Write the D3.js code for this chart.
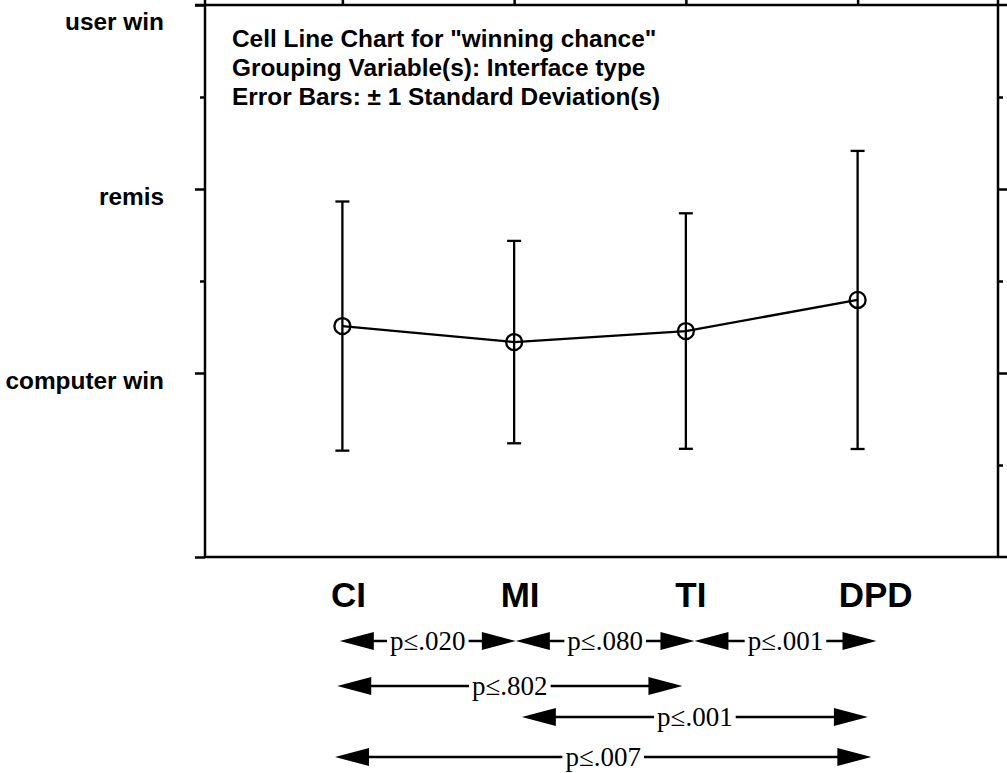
<!DOCTYPE html>
<html>
<head>
<meta charset="utf-8">
<script src="https://cdn.jsdelivr.net/npm/d3@7"></script>
<style>
  body { margin: 0; background: #fff; }
  svg { display: block; }
</style>
</head>
<body>
<script>
// cell means and standard deviations
const categories = ["CI", "MI", "TI", "DPD"];
const means = [1.255, 1.168, 1.228, 1.397];
const sds = [0.677, 0.550, 0.640, 0.810];

// y axis: 1 = computer win, 2 = remis, 3 = user win
const yTickValues = [1, 2, 3];
const yTickLabels = ["computer win", "remis", "user win"];
const leftMinorTicks = [1.5, 2.5];
const rightMinorTicks = [0.5, 1.5, 2.5];

const titleLines = [
  "Cell Line Chart for \"winning chance\"",
  "Grouping Variable(s): Interface type",
  "Error Bars: \u00b1 1 Standard Deviation(s)"
];

// pairwise comparison arrows, ends given in category units (0 = CI ... 3 = DPD)
const pLabels = ["p\u2264.020", "p\u2264.080", "p\u2264.001", "p\u2264.802", "p\u2264.001", "p\u2264.007"];
const arrowFrom = [-0.015, 1.01, 2.05, -0.03, 1.045, -0.043];
const arrowTo = [1.01, 2.05, 3.11, 1.98, 3.06, 3.08];
const arrowRow = [0, 0, 0, 1, 2, 3];

const width = 1007, height = 773;
const plot = { left: 205, right: 998, top: 5, bottom: 557 };
const rowY = [641, 686, 717, 757];
const catLabelDx = { CI: 6, MI: 6, TI: 5, DPD: 18 }; // labels sit a bit right of the points

const svg = d3.select("body")
  .append("svg")
    .attr("width", width)
    .attr("height", height)
    .style("font-family", "'Liberation Sans', Arial, sans-serif");

svg.append("rect").attr("width", width).attr("height", height).attr("fill", "#fff");

const x = d3.scalePoint()
  .domain(categories)
  .range([plot.left, 995])
  .padding(0.8);

const y = d3.scaleLinear()
  .domain([0, 3])
  .range([plot.bottom, plot.top]);

// continuous version of x for the comparison arrows
const xi = d3.scaleLinear()
  .domain([0, categories.length - 1])
  .range([x(categories[0]), x(categories[categories.length - 1])]);

const strokeW = 2.5;

function styleAxis(g) {
  g.select(".domain").remove();
  g.selectAll("line").attr("stroke", "#000").attr("stroke-width", strokeW);
}

// left axis
svg.append("g")
  .attr("transform", `translate(${plot.left},0)`)
  .call(d3.axisLeft(y).tickValues([0].concat(yTickValues)).tickSize(10).tickFormat(""))
  .call(styleAxis);
svg.append("g")
  .attr("transform", `translate(${plot.left},0)`)
  .call(d3.axisLeft(y).tickValues(leftMinorTicks).tickSize(5).tickFormat(""))
  .call(styleAxis);

// right axis
svg.append("g")
  .attr("transform", `translate(${plot.right},0)`)
  .call(d3.axisRight(y).tickValues(yTickValues.slice(0, 2)).tickSize(9).tickFormat(""))
  .call(styleAxis);
svg.append("g")
  .attr("transform", `translate(${plot.right},0)`)
  .call(d3.axisRight(y).tickValues(rightMinorTicks).tickSize(5).tickFormat(""))
  .call(styleAxis);

// top ticks at the categories
svg.append("g")
  .attr("transform", `translate(0,${plot.top})`)
  .call(d3.axisTop(x).tickSize(5).tickFormat(""))
  .call(styleAxis);

// frame
const frame = svg.append("g").attr("stroke", "#000").attr("stroke-width", strokeW);
frame.append("line").attr("x1", plot.left - 10).attr("x2", width).attr("y1", y(3)).attr("y2", y(3));
frame.append("line").attr("x1", plot.left).attr("x2", width).attr("y1", y(0)).attr("y2", y(0));
frame.append("line").attr("x1", plot.left).attr("x2", plot.left).attr("y1", 0).attr("y2", y(0));
frame.append("line").attr("x1", plot.right).attr("x2", plot.right).attr("y1", 0).attr("y2", y(0));

// y tick labels
svg.selectAll(".ylabel")
  .data(yTickValues)
  .join("text")
    .attr("class", "ylabel")
    .attr("x", 164)
    .attr("y", d => Math.max(y(d) + 16, 30))
    .attr("text-anchor", "end")
    .style("font-size", "24.4px")
    .style("font-weight", "bold")
    .text((d, i) => yTickLabels[i]);

// title block
svg.selectAll(".title")
  .data(titleLines)
  .join("text")
    .attr("class", "title")
    .attr("x", 232)
    .attr("y", (d, i) => 47 + i * 29)
    .style("font-size", "24.4px")
    .style("font-weight", "bold")
    .text(d => d);

// category labels
svg.selectAll(".cat")
  .data(categories)
  .join("text")
    .attr("class", "cat")
    .attr("x", d => x(d) + catLabelDx[d])
    .attr("y", 607)
    .attr("text-anchor", "middle")
    .style("font-size", "35px")
    .style("font-weight", "bold")
    .text(d => d);

const cells = categories.map((c, i) => ({ cat: c, mean: means[i], sd: sds[i] }));

// error bars
const eb = svg.selectAll(".errbar")
  .data(cells)
  .join("g")
    .attr("class", "errbar")
    .attr("stroke", "#000")
    .attr("stroke-width", 2.3);
eb.append("line")
  .attr("x1", d => x(d.cat)).attr("x2", d => x(d.cat))
  .attr("y1", d => y(d.mean + d.sd)).attr("y2", d => y(d.mean - d.sd));
eb.append("line")
  .attr("x1", d => x(d.cat) - 7).attr("x2", d => x(d.cat) + 7)
  .attr("y1", d => y(d.mean + d.sd)).attr("y2", d => y(d.mean + d.sd));
eb.append("line")
  .attr("x1", d => x(d.cat) - 7).attr("x2", d => x(d.cat) + 7)
  .attr("y1", d => y(d.mean - d.sd)).attr("y2", d => y(d.mean - d.sd));

// mean line and markers
svg.append("path")
  .datum(cells)
  .attr("fill", "none")
  .attr("stroke", "#000")
  .attr("stroke-width", 2.3)
  .attr("d", d3.line().x(d => x(d.cat)).y(d => y(d.mean)));

svg.selectAll(".marker")
  .data(cells)
  .join("circle")
    .attr("class", "marker")
    .attr("cx", d => x(d.cat))
    .attr("cy", d => y(d.mean))
    .attr("r", 8)
    .attr("fill", "none")
    .attr("stroke", "#000")
    .attr("stroke-width", 2.3);

// comparison arrows
const arrows = pLabels.map((p, i) => ({
  label: p, x1: xi(arrowFrom[i]), x2: xi(arrowTo[i]), y: rowY[arrowRow[i]]
}));
const headLen = 34, headHalf = 9;

const ag = svg.selectAll(".arrow")
  .data(arrows)
  .join("g")
    .attr("class", "arrow");

ag.append("line")
  .attr("x1", d => d.x1 + headLen - 2).attr("x2", d => d.x2 - headLen + 2)
  .attr("y1", d => d.y).attr("y2", d => d.y)
  .attr("stroke", "#000")
  .attr("stroke-width", 2.3);

ag.append("path")
  .attr("fill", "#000")
  .attr("d", d => `M${d.x1},${d.y}L${d.x1 + headLen},${d.y - headHalf}L${d.x1 + headLen},${d.y + headHalf}Z` +
                  `M${d.x2},${d.y}L${d.x2 - headLen},${d.y - headHalf}L${d.x2 - headLen},${d.y + headHalf}Z`);

const pText = ag.append("text")
  .attr("x", d => (d.x1 + d.x2) / 2)
  .attr("y", d => d.y + 9)
  .attr("text-anchor", "middle")
  .style("font-family", "'Liberation Serif', 'Times New Roman', serif")
  .style("font-size", "27px")
  .text(d => d.label);

// white gap behind the p labels
pText.each(function() {
  const b = this.getBBox();
  d3.select(this.parentNode).insert("rect", "text")
    .attr("x", b.x - 3).attr("y", b.y + 4)
    .attr("width", b.width + 6).attr("height", b.height - 8)
    .attr("fill", "#fff");
});
</script>
</body>
</html>
